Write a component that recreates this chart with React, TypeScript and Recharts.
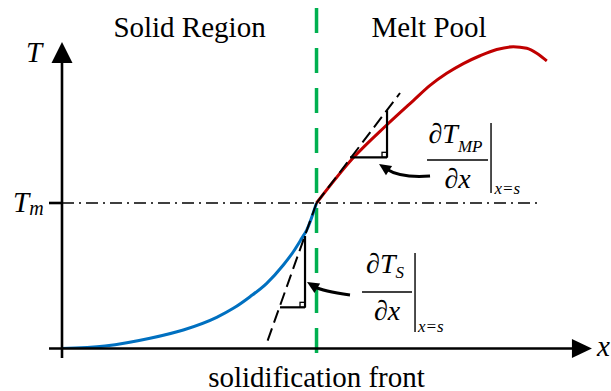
import React from "react";
import { ComposedChart, Line, XAxis, YAxis, ReferenceLine, ReferenceDot } from "recharts";

// Position along x (arbitrary units), solidification front at s = 5
const solidX = [0, 0.845, 1.729, 2.383, 3.039, 3.365, 3.694, 4.022, 4.348, 4.544, 4.709, 4.807, 5.0];
const solidT = [0, 17, 70, 127, 214, 276, 356, 448, 574, 665, 757, 814, 1000];
const meltX = [5.0, 5.717, 6.379, 6.902, 7.23, 7.558, 7.884, 8.212, 8.54, 8.867, 9.13, 9.326, 9.523];
const meltT = [1000, 1309, 1536, 1704, 1808, 1891, 1958, 2012, 2055, 2074, 2063, 2029, 1976];

const Tm = 1000;
const frontX = 5;
const regionLabels = ["Solid Region", "Melt Pool"];
const regionLabelX = [2.505, 7.21];
const frontLabel = "solidification front";

// tangent lines at x = s
const tangentMP = [{ x: 5.0, y: 1000 }, { x: 6.64, y: 1756 }];
const tangentS = [{ x: 5.0, y: 1000 }, { x: 4.037, y: 52 }];
// slope triangles
const triMP = { x1: 5.658, x2: 6.385, y1: 1314, y2: 1637 };
const triS = { x1: 4.283, x2: 4.774, y1: 283, y2: 773 };

const solidData = solidX.map((x, i) => ({ x, T: solidT[i] }));
const meltData = meltX.map((x, i) => ({ x, T: meltT[i] }));

const FONT = '"Liberation Serif", "Times New Roman", Times, "DejaVu Serif", serif';
const fontStyle = (italic: boolean) => ({ fontFamily: FONT, fontStyle: italic ? "italic" : "normal" });

const TextShape = (txt: string, dx: number, dy: number, anchor: string, size: number, italic: boolean) => (p: any) => (
  <text x={p.cx + dx} y={p.cy + dy} textAnchor={anchor} fontSize={size} style={fontStyle(italic)} fill="#000">{txt}</text>
);

const ArrowUp = (p: any) => (
  <polygon points={`${p.cx},${p.cy} ${p.cx - 10.5},${p.cy + 21} ${p.cx + 10.5},${p.cy + 21}`} fill="#000" />
);
const ArrowRight = (p: any) => (
  <polygon points={`${p.cx},${p.cy} ${p.cx - 20},${p.cy - 9.5} ${p.cx - 20},${p.cy + 9.5}`} fill="#000" />
);
const Square = (p: any) => (
  <rect x={p.cx - 5} y={p.cy - 5} width={5} height={5} fill="none" stroke="#000" strokeWidth={1.3} />
);

const curvedArrow = (tx: number, ty: number, qx: number, qy: number) => (p: any) => {
  const hx = p.cx, hy = p.cy;
  const len = Math.hypot(qx, qy);
  const ux = -qx / len, uy = -qy / len; // direction at head
  const L = 12, W = 5.5;
  const bx = hx - ux * L, by = hy - uy * L;
  const px = -uy, py = ux;
  return (
    <g>
      <path d={`M${hx + tx},${hy + ty} Q${hx + qx},${hy + qy} ${bx + ux * 2},${by + uy * 2}`} fill="none" stroke="#000" strokeWidth={3} />
      <polygon points={`${hx},${hy} ${bx + px * W},${by + py * W} ${bx - px * W},${by - py * W}`} fill="#000" />
    </g>
  );
};

const FractionMP = (p: any) => {
  const { cx, cy } = p;
  return (
    <g fill="#000">
      <text x={cx - 2} y={cy - 17} textAnchor="middle" fontSize={28} style={fontStyle(true)}>∂T<tspan fontSize={17} dy={9}>MP</tspan></text>
      <line x1={cx - 30.5} x2={cx + 30.5} y1={cy} y2={cy} stroke="#000" strokeWidth={1.4} />
      <text x={cx} y={cy + 28} textAnchor="middle" fontSize={28} style={fontStyle(true)}>∂x</text>
      <line x1={cx + 33.5} x2={cx + 33.5} y1={cy - 37} y2={cy + 33} stroke="#000" strokeWidth={1.4} />
      <text x={cx + 37} y={cy + 34} fontSize={17} style={fontStyle(true)}>x=s</text>
    </g>
  );
};

const FractionS = (p: any) => {
  const { cx, cy } = p;
  return (
    <g fill="#000">
      <text x={cx - 2} y={cy - 19} textAnchor="middle" fontSize={28} style={fontStyle(true)}>∂T<tspan fontSize={17} dy={5}>S</tspan></text>
      <line x1={cx - 25} x2={cx + 25} y1={cy} y2={cy} stroke="#000" strokeWidth={1.4} />
      <text x={cx} y={cy + 28} textAnchor="middle" fontSize={28} style={fontStyle(true)}>∂x</text>
      <line x1={cx + 28} x2={cx + 28} y1={cy - 39} y2={cy + 40} stroke="#000" strokeWidth={1.4} />
      <text x={cx + 31} y={cy + 40} fontSize={17} style={fontStyle(true)}>x=s</text>
    </g>
  );
};

export default function App() {
  return (
    <div style={{ position: "absolute", left: 0, top: 0, width: 611, height: 391, background: "#fff" }}>
      <ComposedChart width={611} height={391} margin={{ top: 28.4, right: 14.5, bottom: 42.5, left: 62 }}>
        <XAxis type="number" dataKey="x" domain={[0, 10.5]} hide allowDataOverflow />
        <YAxis type="number" domain={[0, 2200]} hide allowDataOverflow />

        {/* Tm dash-dot line */}
        <ReferenceLine segment={[{ x: 0, y: Tm }, { x: 9.43, y: Tm }]} stroke="#000" strokeWidth={1.4}
          strokeDasharray="12 5 2 5" ifOverflow="visible" />
        {/* solidification front */}
        <ReferenceLine segment={[{ x: frontX, y: 2340 }, { x: frontX, y: -65 }]} stroke="#00B050" strokeWidth={3.5}
          strokeDasharray="25 15" ifOverflow="visible" />

        <Line data={solidData} dataKey="T" type="monotone" stroke="#0070C0" strokeWidth={3} dot={false} isAnimationActive={false} />
        <Line data={meltData} dataKey="T" type="monotone" stroke="#C00000" strokeWidth={3} dot={false} isAnimationActive={false} />

        {/* tangents */}
        <ReferenceLine segment={tangentMP} stroke="#000" strokeWidth={2} strokeDasharray="13 6" ifOverflow="visible" />
        <ReferenceLine segment={tangentS} stroke="#000" strokeWidth={2} strokeDasharray="13 6" ifOverflow="visible" />

        {/* slope triangles */}
        <ReferenceLine segment={[{ x: triMP.x1, y: triMP.y1 }, { x: triMP.x2, y: triMP.y1 }]} stroke="#000" strokeWidth={2.2} ifOverflow="visible" />
        <ReferenceLine segment={[{ x: triMP.x2, y: triMP.y1 }, { x: triMP.x2, y: triMP.y2 }]} stroke="#000" strokeWidth={2.2} ifOverflow="visible" />
        <ReferenceDot x={triMP.x2} y={triMP.y1} r={0} ifOverflow="visible" shape={Square} />
        <ReferenceLine segment={[{ x: triS.x1, y: triS.y1 }, { x: triS.x2, y: triS.y1 }]} stroke="#000" strokeWidth={2.2} ifOverflow="visible" />
        <ReferenceLine segment={[{ x: triS.x2, y: triS.y1 }, { x: triS.x2, y: triS.y2 }]} stroke="#000" strokeWidth={2.2} ifOverflow="visible" />
        <ReferenceDot x={triS.x2} y={triS.y1} r={0} ifOverflow="visible" shape={Square} />

        {/* axes */}
        <ReferenceLine segment={[{ x: 0, y: -65 }, { x: 0, y: 1970 }]} stroke="#000" strokeWidth={2.6} ifOverflow="visible" />
        <ReferenceLine segment={[{ x: -0.255, y: 0 }, { x: 10.05, y: 0 }]} stroke="#000" strokeWidth={2.6} ifOverflow="visible" />
        <ReferenceLine segment={[{ x: -0.255, y: Tm }, { x: 0, y: Tm }]} stroke="#000" strokeWidth={2.6} ifOverflow="visible" />
        <ReferenceDot x={0} y={2107} r={0} ifOverflow="visible" shape={ArrowUp} />
        <ReferenceDot x={10.41} y={0} r={0} ifOverflow="visible" shape={ArrowRight} />

        {/* arrows to triangles */}
        <ReferenceDot x={6.228} y={1268} r={0} ifOverflow="visible" shape={curvedArrow(51, 12, 21, 14)} />
        <ReferenceDot x={4.813} y={457} r={0} ifOverflow="visible" shape={curvedArrow(43, 13, 15, 9)} />

        {/* fractions */}
        <ReferenceDot x={7.77} y={1296} r={0} ifOverflow="visible" shape={FractionMP} />
        <ReferenceDot x={6.385} y={388} r={0} ifOverflow="visible" shape={FractionS} />

        {/* labels */}
        <ReferenceDot x={regionLabelX[0]} y={2141} r={0} ifOverflow="visible" shape={TextShape(regionLabels[0], 0, 0, "middle", 29, false)} />
        <ReferenceDot x={regionLabelX[1]} y={2141} r={0} ifOverflow="visible" shape={TextShape(regionLabels[1], 0, 0, "middle", 29, false)} />
        <ReferenceDot x={frontX} y={-262} r={0} ifOverflow="visible" shape={TextShape(frontLabel, 0, 0, "middle", 29, false)} />
        <ReferenceDot x={0} y={1969} r={0} ifOverflow="visible" shape={TextShape("T", -28, 0, "middle", 29, true)} />
        <ReferenceDot x={10.41} y={0} r={0} ifOverflow="visible" shape={TextShape("x", 5, 7, "start", 29, true)} />
        <ReferenceDot x={0} y={Tm} r={0} ifOverflow="visible" shape={(p: any) => (
          <text x={p.cx - 49} y={p.cy + 9} fontSize={29} style={fontStyle(true)} fill="#000">T<tspan fontSize={20} dy={3}>m</tspan></text>
        )} />
      </ComposedChart>
    </div>
  );
}
